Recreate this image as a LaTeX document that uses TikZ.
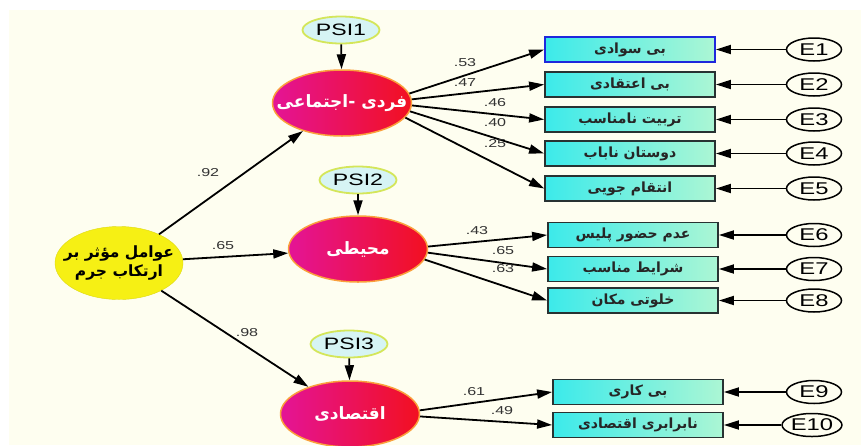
\documentclass[tikz,border=0pt]{standalone}
\usepackage{fontspec}
\setmainfont{Liberation Sans}[FakeStretch=1.4]
\newfontfamily\fa[Script=Arabic]{DejaVu Sans}
\TeXXeTstate=1
\usetikzlibrary{arrows.meta,shapes.geometric}
\definecolor{bgc}{RGB}{254,254,240}
\definecolor{latL}{RGB}{228,20,150}
\definecolor{latR}{RGB}{242,16,32}
\definecolor{latB}{RGB}{250,160,60}
\definecolor{psiF}{RGB}{214,244,244}
\definecolor{psiB}{RGB}{212,230,90}
\definecolor{boxL}{RGB}{60,234,234}
\definecolor{boxR}{RGB}{172,246,212}
\definecolor{boxB}{RGB}{40,50,50}
\definecolor{boxBlue}{RGB}{30,40,220}
\definecolor{yel}{RGB}{246,240,20}
\newcommand{\ctext}[1]{\makebox[0pt][c]{#1}}
\tikzset{
  lat/.style={ellipse, draw=latB, line width=1.5pt, left color=latL, right color=latR,
    minimum width=139pt, minimum height=66pt, inner sep=0pt, text=white,
    font=\fa\bfseries\fontsize{17}{20}\selectfont},
  psi/.style={ellipse, draw=psiB, line width=1.8pt, fill=psiF, minimum width=77pt,
    minimum height=27pt, inner sep=0pt, font=\fontsize{16.5}{18}\selectfont},
  obs/.style={rectangle, draw=boxB, line width=1.8pt, left color=boxL, right color=boxR,
    minimum width=170pt, minimum height=25pt, inner sep=0pt, text=black!85,
    font=\fa\bfseries\fontsize{14}{16}\selectfont},
  err/.style={ellipse, draw=black, line width=1.5pt, fill=bgc, minimum width=55pt,
    minimum height=23pt, inner sep=0pt, font=\fontsize{17}{18}\selectfont},
  exo/.style={ellipse, fill=yel, draw=yel!90!black, line width=0.4pt, minimum width=128pt,
    minimum height=73pt, inner sep=0pt,
    font=\fa\bfseries\fontsize{15.5}{21}\selectfont},
  arr/.style={-{Triangle[length=15pt,width=9pt]}, line width=1.8pt},
  lbl/.style={font=\fontsize{11.5}{12}\selectfont, text=black!80, inner sep=0pt}
}
\begin{document}
\begin{tikzpicture}[x=1pt,y=-1pt]
\useasboundingbox (0,0) rectangle (861,445);
\fill[bgc] (9,10) rectangle (861,445);

% exogenous
\node[exo] (yl) at (119,263) {\ctext{\begin{tabular}{@{}c@{}}\beginR عوامل مؤثر بر\endR\\[-2pt]\beginR ارتکاب جرم\endR\end{tabular}}};

% latent
\node[lat] (l1) at (342,103) {\ctext{\beginR فردی -اجتماعی\endR}};
\node[lat] (l2) at (358,249) {\ctext{\beginR محیطی\endR}};
\node[lat] (l3) at (350,414) {\ctext{\beginR اقتصادی\endR}};

% disturbances
\node[psi] (p1) at (341,30) {PSI1};
\node[psi] (p2) at (358,180) {PSI2};
\node[psi] (p3) at (349,344) {PSI3};

% observed
\node[obs, draw=boxBlue] (b1) at (630,49.5) {\beginR بی سوادی\endR};
\node[obs] (b2) at (630,84.5) {\beginR بی اعتقادی\endR};
\node[obs] (b3) at (630,119.5) {\beginR تربیت نامناسب\endR};
\node[obs] (b4) at (630,153.5) {\beginR دوستان ناباب\endR};
\node[obs] (b5) at (630,188.5) {\beginR انتقام جویی\endR};
\node[obs] (b6) at (633,235) {\beginR عدم حضور پلیس\endR};
\node[obs] (b7) at (633,269) {\beginR شرایط مناسب\endR};
\node[obs] (b8) at (633,300.5) {\beginR خلوتی مکان\endR};
\node[obs] (b9) at (638,392) {\beginR بی کاری\endR};
\node[obs] (b10) at (638,425) {\beginR نابرابری اقتصادی\endR};

% errors
\node[err] (e1) at (814,49.5) {E1};
\node[err] (e2) at (814,84.5) {E2};
\node[err] (e3) at (814,119.5) {E3};
\node[err] (e4) at (814,153.5) {E4};
\node[err] (e5) at (814,188.5) {E5};
\node[err] (e6) at (814,235) {E6};
\node[err] (e7) at (814,269) {E7};
\node[err] (e8) at (814,300.5) {E8};
\node[err] (e9) at (814,392) {E9};
\node[err, minimum width=59pt] (e10) at (812,425) {E10};

% structural paths
\draw[arr] (yl) -- (l1);
\draw[arr] (yl) -- (l2);
\draw[arr] (yl) -- (l3);
\draw[arr] (p1) -- (l1);
\draw[arr] (p2) -- (l2);
\draw[arr] (p3) -- (l3);

% loadings
\draw[arr] (l1.8) -- (b1.west);
\draw[arr] (l1.3) -- (b2.west);
\draw[arr] (l1.-2) -- (b3.west);
\draw[arr] (l1.-7) -- (b4.west);
\draw[arr] (l1.-13) -- (b5.west);
\draw[arr] (l2.2) -- (b6.west);
\draw[arr] (l2.-3) -- (b7.west);
\draw[arr] (l2.-9) -- (b8.west);
\draw[arr] (l3.3) -- (b9.west);
\draw[arr] (l3.-2) -- (b10.west);

% error arrows
\foreach \i in {1,...,10} { \draw[arr] (e\i) -- (b\i); }

% labels
\node[lbl] (w1) at (208,173) {.92};
\node[lbl] (w2) at (223,246) {.65};
\node[lbl] (w3) at (247,333) {.98};
\node[lbl] (w4) at (465,63) {.53};
\node[lbl] (w5) at (465,83) {.47};
\node[lbl] (w6) at (495,103) {.46};
\node[lbl] (w7) at (495,123) {.40};
\node[lbl] (w8) at (495,144) {.25};
\node[lbl] (w9) at (477,231) {.43};
\node[lbl] (w10) at (503,251) {.65};
\node[lbl] (w11) at (503,269) {.63};
\node[lbl] (w12) at (474,392) {.61};
\node[lbl] (w13) at (502,411) {.49};
\end{tikzpicture}
\end{document}
